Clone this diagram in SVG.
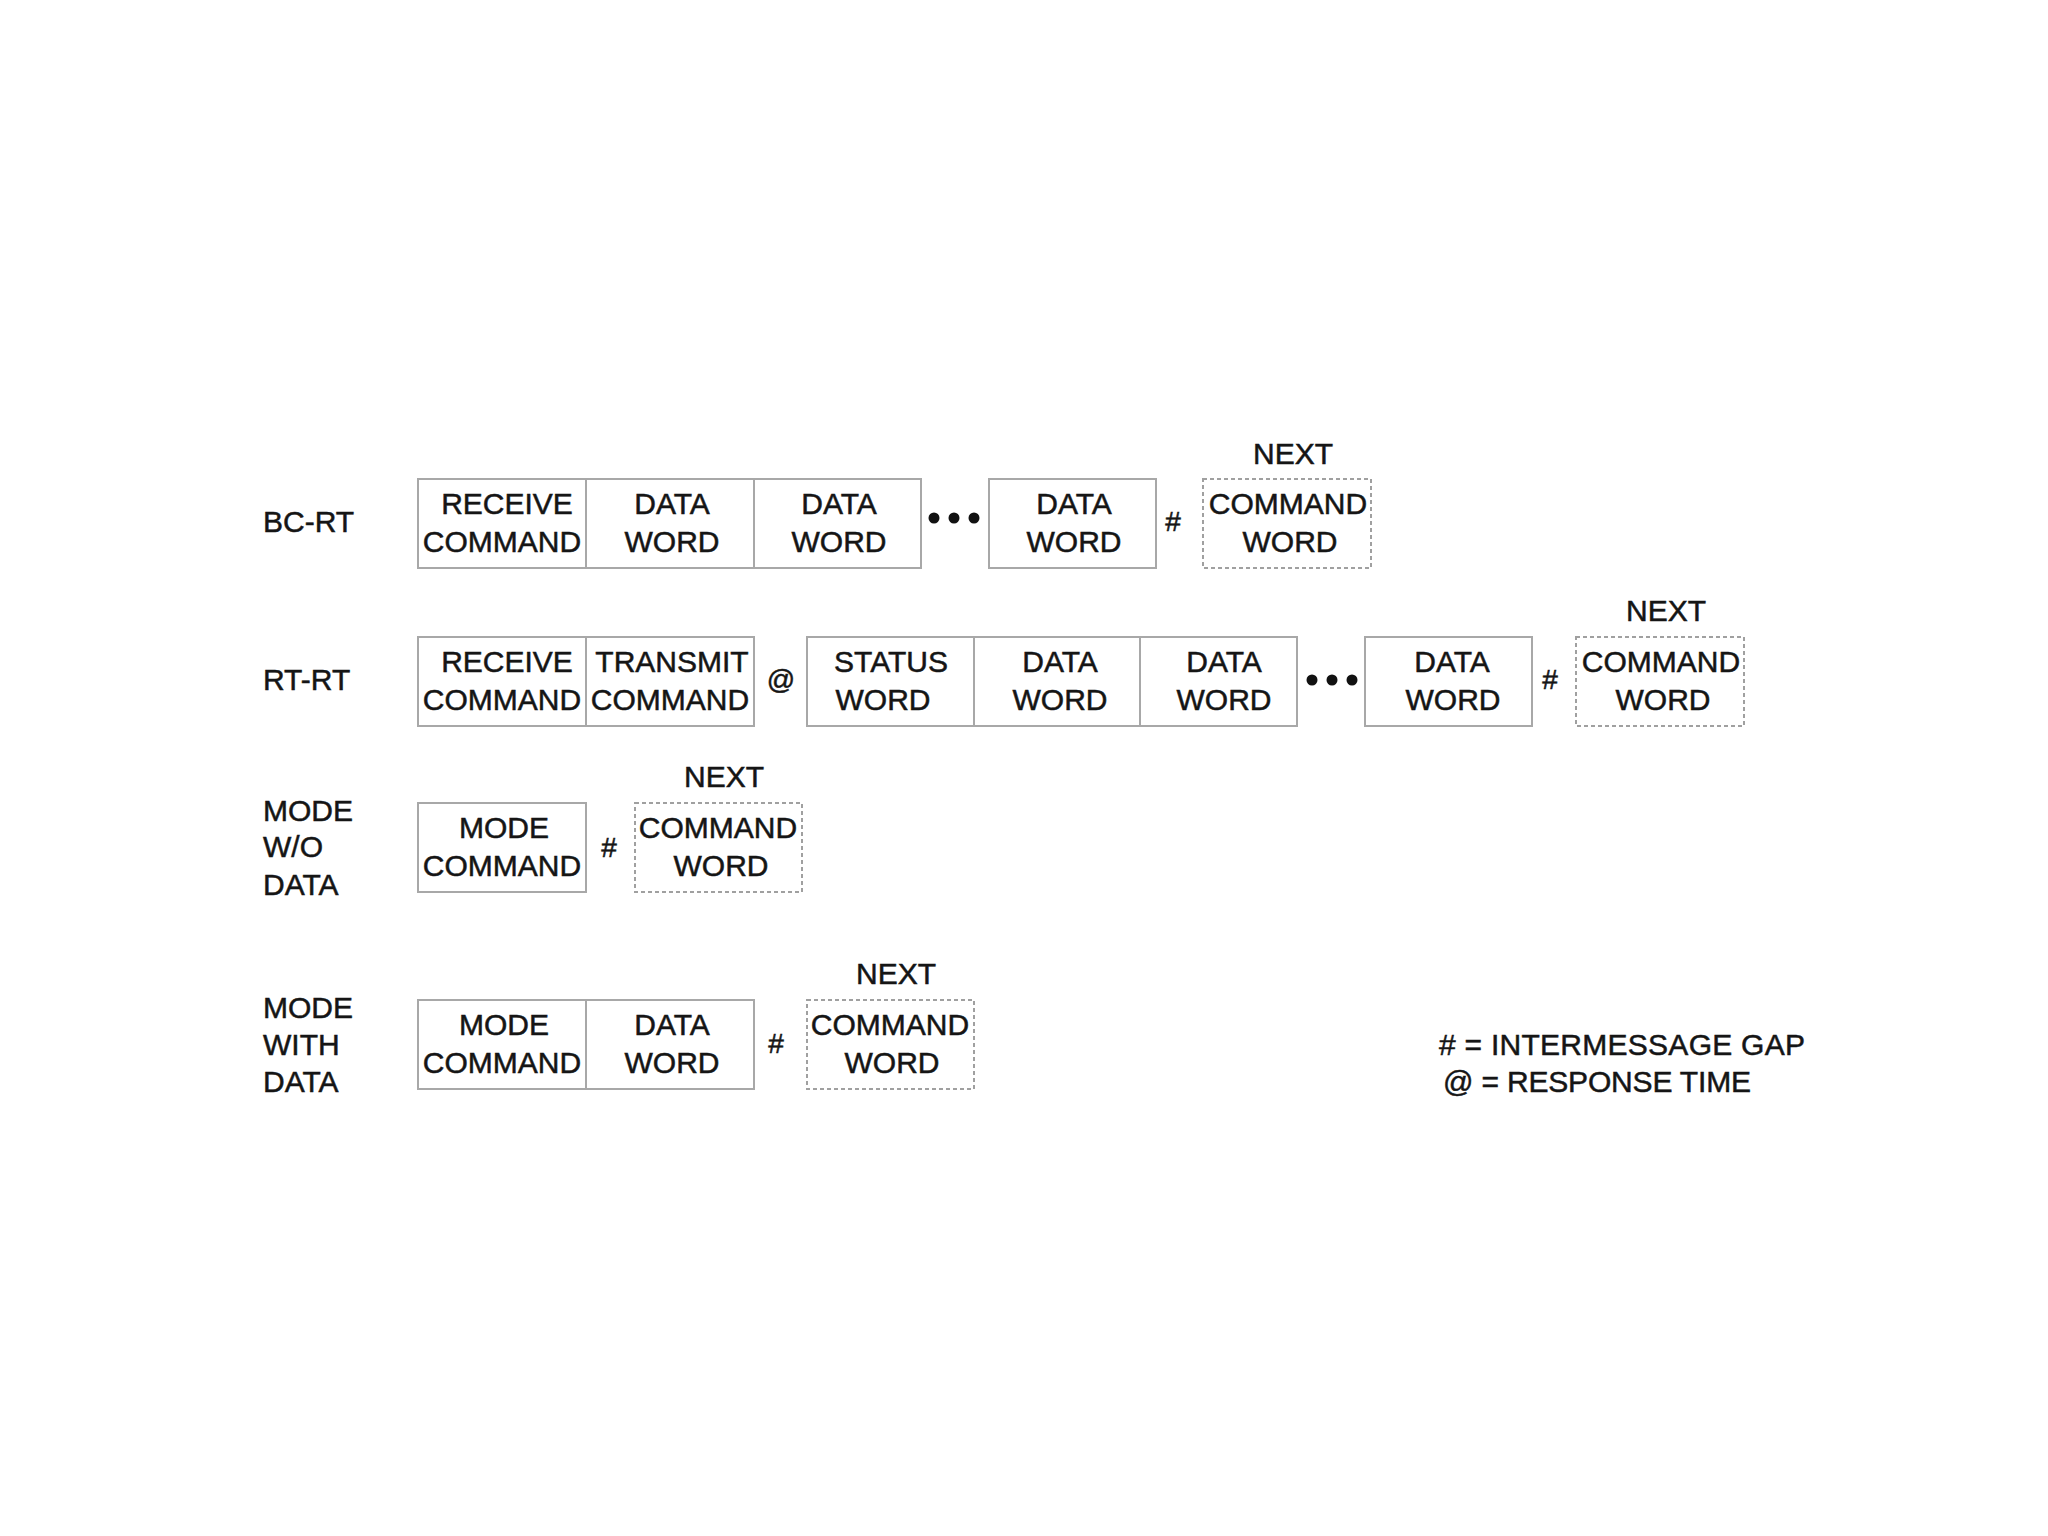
<svg xmlns="http://www.w3.org/2000/svg" width="2048" height="1536" viewBox="0 0 2048 1536">
<style>
text{font-family:"Liberation Sans",Arial,sans-serif;font-size:30px;fill:#151515;stroke:#151515;stroke-width:0.5}
.c{text-anchor:middle}
.box{fill:#fff;stroke:#a8a8a8;stroke-width:2}
.dash{fill:#fff;stroke:#a0a0a0;stroke-width:2;stroke-dasharray:4 3}
.sym{font-size:28px;text-anchor:middle}
.dot{fill:#111}
</style>
<rect width="2048" height="1536" fill="#fff"/>
<g id="labels">
<text x="263" y="532">BC-RT</text>
<text x="263" y="690">RT-RT</text>
<text x="263" y="821">MODE</text>
<text x="263" y="857">W/O</text>
<text x="263" y="895">DATA</text>
<text x="263" y="1018">MODE</text>
<text x="263" y="1055">WITH</text>
<text x="263" y="1092">DATA</text>
</g>
<g id="bcrt">
<g id="bcrt-rc"><rect class="box" x="418" y="479" width="168" height="89"/><text class="c" x="507" y="514">RECEIVE</text><text class="c" x="502" y="552">COMMAND</text></g>
<g id="bcrt-d1"><rect class="box" x="586" y="479" width="168" height="89"/><text class="c" x="672" y="514">DATA</text><text class="c" x="672" y="552">WORD</text></g>
<g id="bcrt-d2"><rect class="box" x="754" y="479" width="167" height="89"/><text class="c" x="839" y="514">DATA</text><text class="c" x="839" y="552">WORD</text></g>
<g id="bcrt-dots"><circle class="dot" cx="934" cy="518" r="5.5"/><circle class="dot" cx="954" cy="518" r="5.5"/><circle class="dot" cx="974" cy="518" r="5.5"/></g>
<g id="bcrt-d3"><rect class="box" x="989" y="479" width="167" height="89"/><text class="c" x="1074" y="514">DATA</text><text class="c" x="1074" y="552">WORD</text></g>
<text class="sym" x="1173" y="531">#</text>
<g id="bcrt-next"><text class="c" x="1293" y="464">NEXT</text><rect class="dash" x="1203" y="479" width="168" height="89"/><text class="c" x="1288" y="514">COMMAND</text><text class="c" x="1290" y="552">WORD</text></g>
</g>
<g id="rtrt">
<g id="rtrt-rc"><rect class="box" x="418" y="637" width="168" height="89"/><text class="c" x="507" y="672">RECEIVE</text><text class="c" x="502" y="710">COMMAND</text></g>
<g id="rtrt-tc"><rect class="box" x="586" y="637" width="168" height="89"/><text class="c" x="672" y="672">TRANSMIT</text><text class="c" x="670" y="710">COMMAND</text></g>
<text class="sym" x="781" y="689">@</text>
<g id="rtrt-sw"><rect class="box" x="807" y="637" width="167" height="89"/><text class="c" x="891" y="672">STATUS</text><text class="c" x="883" y="710">WORD</text></g>
<g id="rtrt-d1"><rect class="box" x="974" y="637" width="166" height="89"/><text class="c" x="1060" y="672">DATA</text><text class="c" x="1060" y="710">WORD</text></g>
<g id="rtrt-d2"><rect class="box" x="1140" y="637" width="157" height="89"/><text class="c" x="1224" y="672">DATA</text><text class="c" x="1224" y="710">WORD</text></g>
<g id="rtrt-dots"><circle class="dot" cx="1312" cy="680" r="5.5"/><circle class="dot" cx="1332" cy="680" r="5.5"/><circle class="dot" cx="1352" cy="680" r="5.5"/></g>
<g id="rtrt-d3"><rect class="box" x="1365" y="637" width="167" height="89"/><text class="c" x="1452" y="672">DATA</text><text class="c" x="1453" y="710">WORD</text></g>
<text class="sym" x="1550" y="689">#</text>
<g id="rtrt-next"><text class="c" x="1666" y="621">NEXT</text><rect class="dash" x="1576" y="637" width="168" height="89"/><text class="c" x="1661" y="672">COMMAND</text><text class="c" x="1663" y="710">WORD</text></g>
</g>
<g id="modewo">
<g id="modewo-mc"><rect class="box" x="418" y="803" width="168" height="89"/><text class="c" x="504" y="838">MODE</text><text class="c" x="502" y="876">COMMAND</text></g>
<text class="sym" x="609" y="857">#</text>
<g id="modewo-next"><text class="c" x="724" y="787">NEXT</text><rect class="dash" x="635" y="803" width="167" height="89"/><text class="c" x="718" y="838">COMMAND</text><text class="c" x="721" y="876">WORD</text></g>
</g>
<g id="modewith">
<g id="modewith-mc"><rect class="box" x="418" y="1000" width="168" height="89"/><text class="c" x="504" y="1035">MODE</text><text class="c" x="502" y="1073">COMMAND</text></g>
<g id="modewith-dw"><rect class="box" x="586" y="1000" width="168" height="89"/><text class="c" x="672" y="1035">DATA</text><text class="c" x="672" y="1073">WORD</text></g>
<text class="sym" x="776" y="1053">#</text>
<g id="modewith-next"><text class="c" x="896" y="984">NEXT</text><rect class="dash" x="807" y="1000" width="167" height="89"/><text class="c" x="890" y="1035">COMMAND</text><text class="c" x="892" y="1073">WORD</text></g>
</g>
<g id="legend">
<text x="1439" y="1055" textLength="366"># = INTERMESSAGE GAP</text>
<text x="1443" y="1092" textLength="308">@ = RESPONSE TIME</text>
</g>
</svg>
